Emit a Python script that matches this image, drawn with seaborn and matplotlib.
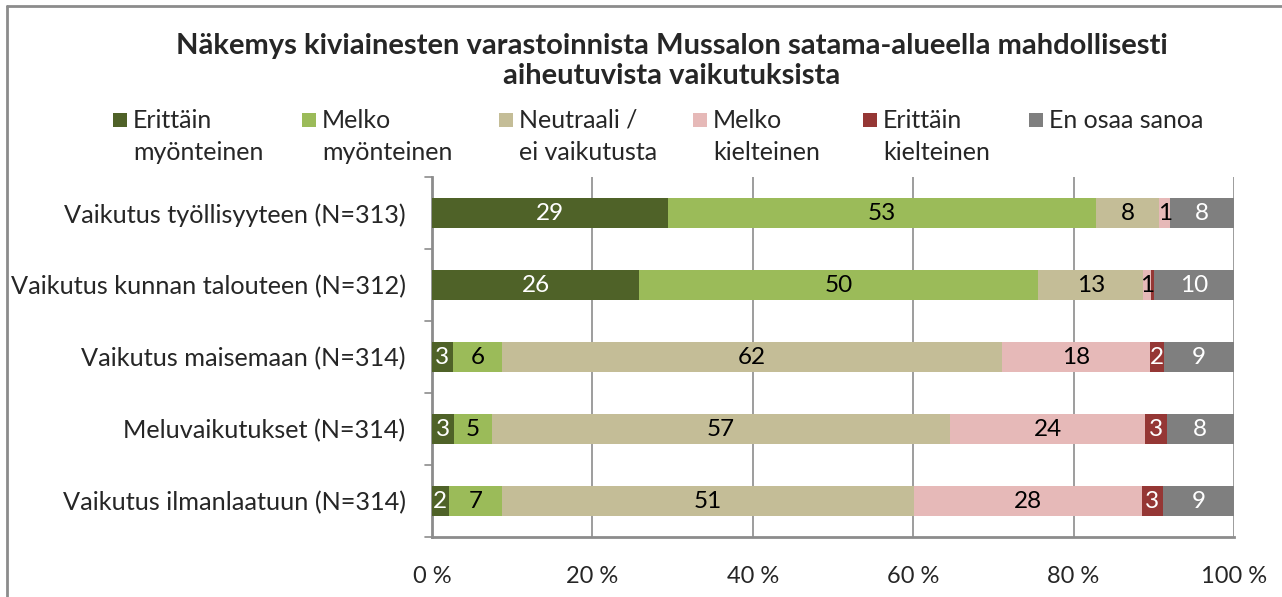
import numpy as np
import pandas as pd
import matplotlib
matplotlib.use("Agg")
import matplotlib.pyplot as plt
import seaborn as sns
from matplotlib.patches import Rectangle
from matplotlib.lines import Line2D

# data (percent shares per statement)
questions = [
    "Vaikutus työllisyyteen (N=313)",
    "Vaikutus kunnan talouteen (N=312)",
    "Vaikutus maisemaan (N=314)",
    "Meluvaikutukset (N=314)",
    "Vaikutus ilmanlaatuun (N=314)",
]
categories = [
    "Erittäin\nmyönteinen",
    "Melko\nmyönteinen",
    "Neutraali /\nei vaikutusta",
    "Melko\nkielteinen",
    "Erittäin\nkielteinen",
    "En osaa sanoa",
]
very_positive = [29.4, 25.8, 2.6, 2.7, 2.1]
fairly_positive = [53.4, 49.8, 6.1, 4.8, 6.6]
neutral = [7.9, 13.1, 62.4, 57.1, 51.4]
fairly_negative = [1.3, 1.0, 18.4, 24.3, 28.4]
very_negative = [0.0, 0.3, 1.8, 2.7, 2.6]
dont_know = [8.0, 10.0, 8.7, 8.4, 8.9]

colors = ["#4F6228", "#9BBB59", "#C4BD97", "#E6B9B8", "#953735", "#7F7F7F"]
label_colors = ["white", "black", "black", "black", "white", "white"]

sns.set_style("white")
plt.rcParams["font.family"] = ["Lato", "DejaVu Sans"]

df = pd.DataFrame(
    {c: v for c, v in zip(categories, [very_positive, fairly_positive, neutral,
                                        fairly_negative, very_negative, dont_know])},
    index=questions,
)
cum = df.cumsum(axis=1)

W, H = 1282, 597
fig = plt.figure(figsize=(W / 100, H / 100), dpi=100)
ax = fig.add_axes([432 / W, 1 - 537 / H, 802 / W, 360 / H])

# stacked bars: draw cumulative totals from the longest to the shortest
for i in reversed(range(len(categories))):
    sns.barplot(x=cum.iloc[:, i].values, y=questions, orient="h",
                color=colors[i], width=0.41, linewidth=0, saturation=1, ax=ax,
                zorder=3)

# value labels
for r, q in enumerate(questions):
    for i, c in enumerate(categories):
        v = df.loc[q, c]
        lab = int(np.floor(v + 0.5))
        if lab == 0:
            continue
        xc = cum.loc[q, c] - v / 2
        ax.text(xc, r, str(lab), ha="center", va="center", fontsize=17.5,
                color=label_colors[i], zorder=4)

ax.set_xlim(0, 100)
ax.set_ylim(4.5, -0.5)
ax.set_xticks(range(0, 101, 20))
ax.set_xticklabels([f"{t} %" for t in range(0, 101, 20)], fontsize=17)
ax.tick_params(axis="y", labelsize=18.2, length=0, pad=19)
ax.tick_params(axis="x", length=8, width=1.2, color="#8C8C8C", pad=13, direction="out")
ax.set_yticks(range(len(questions)))
ax.set_yticklabels(questions)
ax.xaxis.grid(True, color="#8C8C8C", linewidth=1.2, zorder=0)
ax.set_axisbelow(True)
for s in ["top", "right"]:
    ax.spines[s].set_visible(False)
for s in ["left", "bottom"]:
    ax.spines[s].set_color("#8C8C8C")
    ax.spines[s].set_linewidth(2)
ax.set_xlabel("")
ax.set_ylabel("")

# y tick marks between categories
for yb in np.arange(-0.5, 4.6, 1.0):
    ax.plot([-0.9, 0], [yb, yb], color="#8C8C8C", lw=1.2, clip_on=False, zorder=5)

# legend: square marker aligned with the first line of each label
legend_x = [113, 302, 499, 693, 863, 1029]
for lx, c, lab in zip(legend_x, colors, categories):
    fig.add_artist(Rectangle((lx / W, 1 - 127 / H), 14 / W, 14 / H, facecolor=c,
                             edgecolor="none", transform=fig.transFigure))
    fig.text((lx + 20) / W, 1 - 109 / H, lab, ha="left", va="top", fontsize=18,
             linespacing=1.5)

# title
fig.text(672 / W, 1 - 61 / H,
         "Näkemys kiviainesten varastoinnista Mussalon satama-alueella mahdollisesti\naiheutuvista vaikutuksista",
         ha="center", va="center", fontsize=21, fontweight="bold", linespacing=1.22)

# chart area border (left and top edges visible)
fig.add_artist(Line2D([7 / W, 7 / W], [0, 1 - 6 / H], color="#8C8C8C", lw=2,
                      transform=fig.transFigure))
fig.add_artist(Line2D([7 / W, 1], [1 - 6 / H, 1 - 6 / H], color="#8C8C8C", lw=2,
                      transform=fig.transFigure))

fig.savefig("out.png", dpi=100)
